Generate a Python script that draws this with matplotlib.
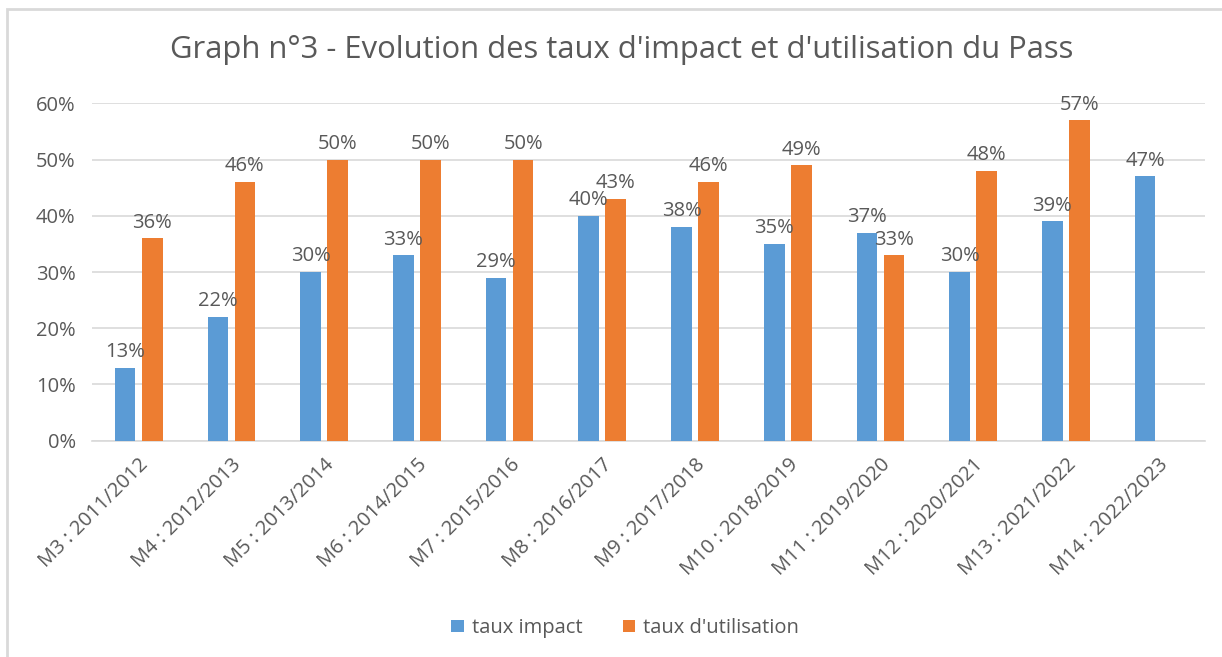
import matplotlib.pyplot as plt
import numpy as np
from matplotlib.patches import Rectangle

categories = ['M3 : 2011/2012', 'M4 : 2012/2013', 'M5 : 2013/2014', 'M6 : 2014/2015',
              'M7 : 2015/2016', 'M8 : 2016/2017', 'M9 : 2017/2018', 'M10 : 2018/2019',
              'M11 : 2019/2020', 'M12 : 2020/2021', 'M13 : 2021/2022', 'M14 : 2022/2023']
taux_impact = [13, 22, 30, 33, 29, 40, 38, 35, 37, 30, 39, 47]
taux_utilisation = [36, 46, 50, 50, 50, 43, 46, 49, 33, 48, 57, None]
y_ticks = [0, 10, 20, 30, 40, 50, 60]

BLUE = '#5B9BD5'
ORANGE = '#ED7D31'
TEXT = '#595959'
FS = 14.5

plt.rcParams['font.family'] = ['Open Sans', 'DejaVu Sans']

fig = plt.figure(figsize=(12.22, 6.57), dpi=100)
ax = fig.add_axes([92.3 / 1222, 1 - 440.7 / 657, (1205 - 92.3) / 1222, (440.7 - 103.3) / 657])

# chart area frame (only top/left visible in the screenshot)
fig.patches.append(Rectangle((7 / 1222, -0.1), 1.2, (657 - 9) / 657 + 0.1,
                             transform=fig.transFigure, fill=False,
                             edgecolor='#d9d9d9', linewidth=2))

x = np.arange(len(categories))
width = 0.223
offset = 0.146

b1 = ax.bar(x - offset, taux_impact, width, color=BLUE, label='taux impact', zorder=3)
util_x = [xi + offset for xi, v in zip(x, taux_utilisation) if v is not None]
util_v = [v for v in taux_utilisation if v is not None]
b2 = ax.bar(util_x, util_v, width, color=ORANGE, label="taux d'utilisation", zorder=3)

for bars in (b1, b2):
    for rect in bars:
        h = rect.get_height()
        ax.annotate(f'{h:.0f}%', (rect.get_x() + rect.get_width() / 2, h),
                    xytext=(0, 4), textcoords='offset points', ha='center', va='bottom',
                    fontsize=FS, color=TEXT, clip_on=False, zorder=4)

ax.set_xlim(-0.5, len(categories) - 0.5)
ax.set_ylim(0, 60)
ax.set_yticks(y_ticks)
ax.set_yticklabels([f'{t}%' for t in y_ticks], fontsize=FS, color=TEXT)
ax.set_xticks(x)
ax.set_xticklabels(categories, rotation=45, ha='right', va='top', rotation_mode='anchor',
                   fontsize=FS, color=TEXT)
ax.tick_params(axis='both', length=0)
ax.tick_params(axis='y', pad=12)
ax.tick_params(axis='x', pad=10)
ax.grid(axis='y', color='#d9d9d9', linewidth=1.2, zorder=0)
for side in ('top', 'right', 'left'):
    ax.spines[side].set_visible(False)
ax.spines['bottom'].set_color('#d9d9d9')
ax.spines['bottom'].set_linewidth(1.2)

fig.text(622 / 1222, 1 - 50 / 657, "Graph n°3 - Evolution des taux d'impact et d'utilisation du Pass",
         ha='center', va='center', fontsize=22.3, color=TEXT)

leg = fig.legend(loc='center', bbox_to_anchor=(625 / 1222, 1 - 628 / 657), ncol=2,
                 frameon=False, fontsize=FS, handlelength=0.6, handleheight=0.6,
                 handletextpad=0.4, columnspacing=2.0)
for t in leg.get_texts():
    t.set_color(TEXT)

plt.savefig('out.png', dpi=100)
